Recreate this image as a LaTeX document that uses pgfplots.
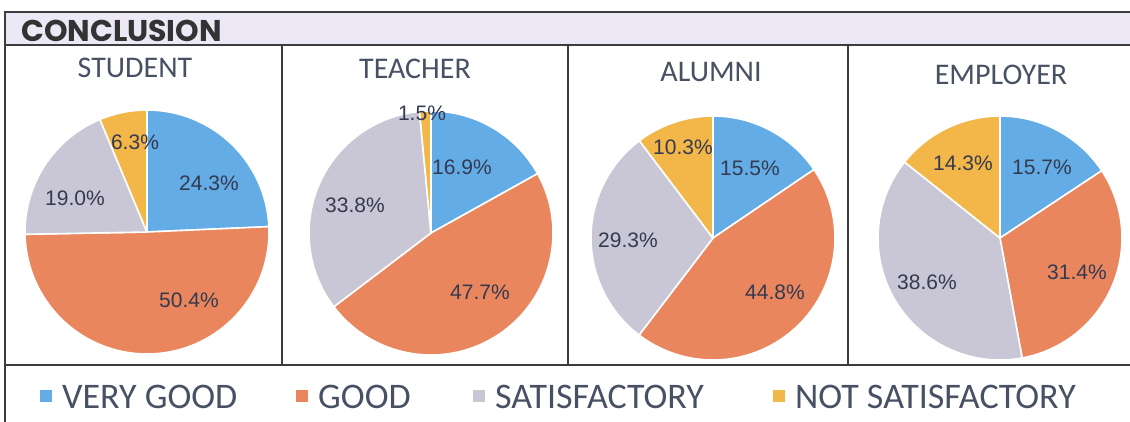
\documentclass[border=0pt]{standalone}
\usepackage{pgfplots}
\pgfplotsset{compat=1.18}
\usepackage{pgfplotstable}
\usepackage{fontspec}
\setmainfont{Carlito}
\newfontfamily\arialfont{Liberation Sans}
\newfontfamily\headfont{Poppins}

\definecolor{cVG}{RGB}{100,172,230}
\definecolor{cG}{RGB}{233,134,94}
\definecolor{cS}{RGB}{201,199,214}
\definecolor{cNS}{RGB}{243,182,72}
\definecolor{txt}{RGB}{72,80,100}
\definecolor{lbl}{RGB}{52,58,80}
\definecolor{barbg}{RGB}{236,232,245}
\definecolor{framec}{RGB}{60,60,60}

% share (%) of each rating, one column per respondent group
\pgfplotstableread{
cat student teacher alumni employer
verygood 24.3 16.9 15.5 15.7
good 50.4 47.7 44.8 31.4
satisfactory 19.0 33.8 29.3 38.6
notsatisfactory 6.3 1.5 10.3 14.3
}\piedata

\newcommand\pieangles[1]{%
 \pgfplotstablegetelem{0}{#1}\of\piedata\let\va\pgfplotsretval
 \pgfplotstablegetelem{1}{#1}\of\piedata\let\vb\pgfplotsretval
 \pgfplotstablegetelem{2}{#1}\of\piedata\let\vc\pgfplotsretval
 \pgfplotstablegetelem{3}{#1}\of\piedata\let\vd\pgfplotsretval
 \pgfmathsetmacro\tot{\va+\vb+\vc+\vd}%
 \pgfmathsetmacro\aB{90-360*(\va/\tot)}%
 \pgfmathsetmacro\aC{\aB-360*(\vb/\tot)}%
 \pgfmathsetmacro\aD{\aC-360*(\vc/\tot)}%
}
\def\R{122pt}
\newcommand\piewedges{%
 \filldraw[fill=cVG,draw=white,line width=1.6pt,line join=round] (axis cs:0,0) -- ++(90:\R) arc[start angle=90,end angle=\aB,radius=\R] -- cycle;
 \filldraw[fill=cG,draw=white,line width=1.6pt,line join=round] (axis cs:0,0) -- ++(\aB:\R) arc[start angle=\aB,end angle=\aC,radius=\R] -- cycle;
 \filldraw[fill=cS,draw=white,line width=1.6pt,line join=round] (axis cs:0,0) -- ++(\aC:\R) arc[start angle=\aC,end angle=\aD,radius=\R] -- cycle;
 \filldraw[fill=cNS,draw=white,line width=1.6pt,line join=round] (axis cs:0,0) -- ++(\aD:\R) arc[start angle=\aD,end angle=-270,radius=\R] -- cycle;
}
\pgfplotsset{pieax/.style={anchor=center,x=1pt,y=1pt,xmin=-130,xmax=130,ymin=-130,ymax=130,hide axis,clip=false}}
\tikzset{lbl/.style={font=\arialfont\fontsize{21}{23}\selectfont,text=lbl,inner sep=0pt},
 ttl/.style={anchor=base,font=\fontsize{30}{33}\selectfont,text=txt,inner sep=0pt},
 leg/.style={anchor=base west,font=\fontsize{36}{40}\selectfont,text=txt,inner sep=0pt}}

\begin{document}
\begin{tikzpicture}
\useasboundingbox (0pt,0pt) rectangle (1130pt,-421pt);
\clip (0pt,0pt) rectangle (1130pt,-421pt);
\fill[barbg] (5pt,-12pt) rectangle (1140pt,-45pt);
\draw[framec,line width=1.4pt] (1140pt,-12pt) -- (5pt,-12pt) -- (5pt,-430pt);
\draw[framec,line width=1.4pt] (5pt,-45pt) -- (1140pt,-45pt);
\draw[framec,line width=1.4pt] (5pt,-365pt) -- (1140pt,-365pt);
\draw[framec,line width=1.4pt] (282pt,-45pt) -- (282pt,-365pt);
\draw[framec,line width=1.4pt] (568pt,-45pt) -- (568pt,-365pt);
\draw[framec,line width=1.4pt] (848pt,-45pt) -- (848pt,-365pt);
\node[anchor=base west,font=\headfont\bfseries\fontsize{30}{32}\selectfont,text=black!80,inner sep=0pt] at (21pt,-41pt) {CONCLUSION};

\node[ttl] at (135pt,-77pt) {STUDENT};
\node[ttl] at (415pt,-78pt) {TEACHER};
\node[ttl] at (711pt,-81pt) {ALUMNI};
\node[ttl] at (1001pt,-84pt) {EMPLOYER};

% STUDENT
\pieangles{student}
\begin{axis}[pieax,at={(147pt,-232pt)}]
\piewedges
\node[lbl] at (axis cs:62,49) {24.3\%};
\node[lbl] at (axis cs:42,-68) {50.4\%};
\node[lbl] at (axis cs:-72,34) {19.0\%};
\node[lbl] at (axis cs:-12,90) {6.3\%};
\end{axis}

% TEACHER
\pieangles{teacher}
\begin{axis}[pieax,at={(431pt,-233pt)}]
\piewedges
\node[lbl] at (axis cs:31,66) {16.9\%};
\node[lbl] at (axis cs:49,-59) {47.7\%};
\node[lbl] at (axis cs:-76,28) {33.8\%};
\node[lbl] at (axis cs:-9,120) {1.5\%};
\end{axis}

% ALUMNI
\pieangles{alumni}
\begin{axis}[pieax,at={(713pt,-238pt)}]
\piewedges
\node[lbl] at (axis cs:37,70) {15.5\%};
\node[lbl] at (axis cs:62,-54) {44.8\%};
\node[lbl] at (axis cs:-85,-2) {29.3\%};
\node[lbl] at (axis cs:-30,91) {10.3\%};
\end{axis}

% EMPLOYER
\pieangles{employer}
\begin{axis}[pieax,at={(1000pt,-238pt)}]
\piewedges
\node[lbl] at (axis cs:42,71) {15.7\%};
\node[lbl] at (axis cs:77,-34) {31.4\%};
\node[lbl] at (axis cs:-73,-44) {38.6\%};
\node[lbl] at (axis cs:-37,75) {14.3\%};
\end{axis}

% legend
\fill[cVG] (40pt,-390pt) rectangle (52pt,-402pt);
\node[leg] at (62pt,-408pt) {VERY GOOD};
\fill[cG] (296pt,-390pt) rectangle (308pt,-402pt);
\node[leg] at (318pt,-408pt) {GOOD};
\fill[cS] (473pt,-390pt) rectangle (485pt,-402pt);
\node[leg] at (495pt,-408pt) {SATISFACTORY};
\fill[cNS] (773pt,-390pt) rectangle (785pt,-402pt);
\node[leg] at (795pt,-408pt) {NOT SATISFACTORY};
\end{tikzpicture}
\end{document}
